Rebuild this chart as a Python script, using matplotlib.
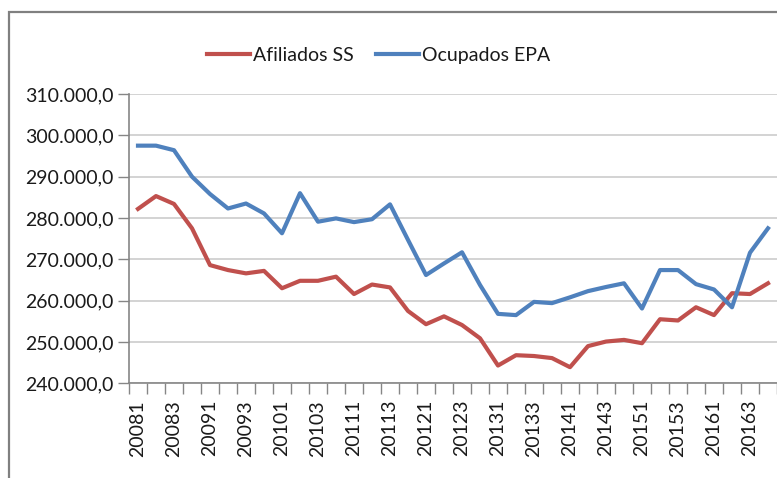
import matplotlib
matplotlib.use("Agg")
import matplotlib.pyplot as plt
from matplotlib.patches import Rectangle
from matplotlib.ticker import FixedLocator, FixedFormatter

# ---- data ----
years = list(range(2008, 2017))
quarters = [f"{y}{q}" for y in years for q in range(1, 5)]

afiliados_ss = [282.2, 285.3, 283.4, 277.5, 268.6, 267.4, 266.6, 267.2, 263.0,
                264.8, 264.8, 265.8, 261.6, 263.9, 263.2, 257.5, 254.3, 256.2,
                254.1, 250.9, 244.3, 246.8, 246.6, 246.1, 243.9, 249.0, 250.1,
                250.5, 249.7, 255.5, 255.2, 258.4, 256.5, 261.8, 261.6, 264.2]
ocupados_epa = [297.5, 297.5, 296.4, 290.0, 285.8, 282.3, 283.5, 281.1, 276.3,
                286.0, 279.1, 279.9, 279.0, 279.7, 283.3, 274.7, 266.2, 269.0,
                271.7, 263.8, 256.8, 256.5, 259.7, 259.4, 260.8, 262.3, 263.3,
                264.2, 258.1, 267.4, 267.4, 264.0, 262.7, 258.4, 271.6, 277.5]
afiliados_ss = [v * 1000 for v in afiliados_ss]
ocupados_epa = [v * 1000 for v in ocupados_epa]

y_ticks = [240000, 250000, 260000, 270000, 280000, 290000, 300000, 310000]
y_labels = [f"{v:,.1f}".replace(",", "X").replace(".", ",").replace("X", ".") for v in y_ticks]
series_names = ["Afiliados SS", "Ocupados EPA"]

# ---- style ----
W, H = 777, 478
plt.rcParams['font.family'] = ['Lato', 'DejaVu Sans']
txt_color = '#1a1a1a'
red = '#C0504D'
blue = '#4F81BD'
axis_gray = '#868686'
grid_gray = '#C8C8C8'
fs = 14

fig = plt.figure(figsize=(W / 100, H / 100), dpi=100)
fig.patch.set_facecolor('white')

# outer chart frame (cropped at right/bottom)
fig.add_artist(Rectangle((9 / W, -0.2), 2.0, 1.2 - 12 / H, transform=fig.transFigure,
                         fill=False, ec='#808080', lw=1.6))

ax_left, ax_right = 129 / W, 777 / W
ax_top, ax_bottom = 1 - 94 / H, 1 - 383.3 / H
ax = fig.add_axes([ax_left, ax_bottom, ax_right - ax_left, ax_top - ax_bottom])
ax.set_facecolor('none')

x = list(range(len(quarters)))
l1, = ax.plot(x, afiliados_ss, color=red, lw=3.0, solid_joinstyle='round', zorder=3, clip_on=False)
l2, = ax.plot(x, ocupados_epa, color=blue, lw=3.0, solid_joinstyle='round', zorder=3, clip_on=False)

ax.set_xlim(-0.5, len(quarters) - 0.5)
ax.set_ylim(240000, 310000)

ax.set_yticks(y_ticks)
ax.set_yticklabels(y_labels, fontsize=fs, color=txt_color)
ax.tick_params(axis='y', length=8, width=1, color=axis_gray, pad=3)
ax.yaxis.grid(True, color=grid_gray, lw=1.1)
ax.set_axisbelow(True)

# major x ticks at category boundaries (marks only), labels at every other center
ax.xaxis.set_major_locator(FixedLocator([i - 0.5 for i in range(len(quarters) + 1)]))
ax.xaxis.set_major_formatter(FixedFormatter([''] * (len(quarters) + 1)))
ax.tick_params(axis='x', which='major', length=8, width=1, color=axis_gray)
label_pos = x[::2]
ax.xaxis.set_minor_locator(FixedLocator(label_pos))
ax.xaxis.set_minor_formatter(FixedFormatter([quarters[i] for i in label_pos]))
ax.tick_params(axis='x', which='minor', length=0, pad=12, labelsize=fs,
               labelcolor=txt_color, labelrotation=90)

for s in ['top', 'right']:
    ax.spines[s].set_visible(False)
for s in ['left', 'bottom']:
    ax.spines[s].set_color(axis_gray)
    ax.spines[s].set_linewidth(1.2)

fs_px = fs * 100 / 72
leg = fig.legend([l1, l2], series_names, loc='center left',
                 bbox_to_anchor=(207 / W, 1 - 55.7 / H), ncol=2, frameon=False,
                 fontsize=fs, handlelength=43 / fs_px, handletextpad=3 / fs_px,
                 columnspacing=22 / fs_px, borderpad=0, borderaxespad=0)
for t in leg.get_texts():
    t.set_color(txt_color)

fig.savefig('out.png', dpi=100)
